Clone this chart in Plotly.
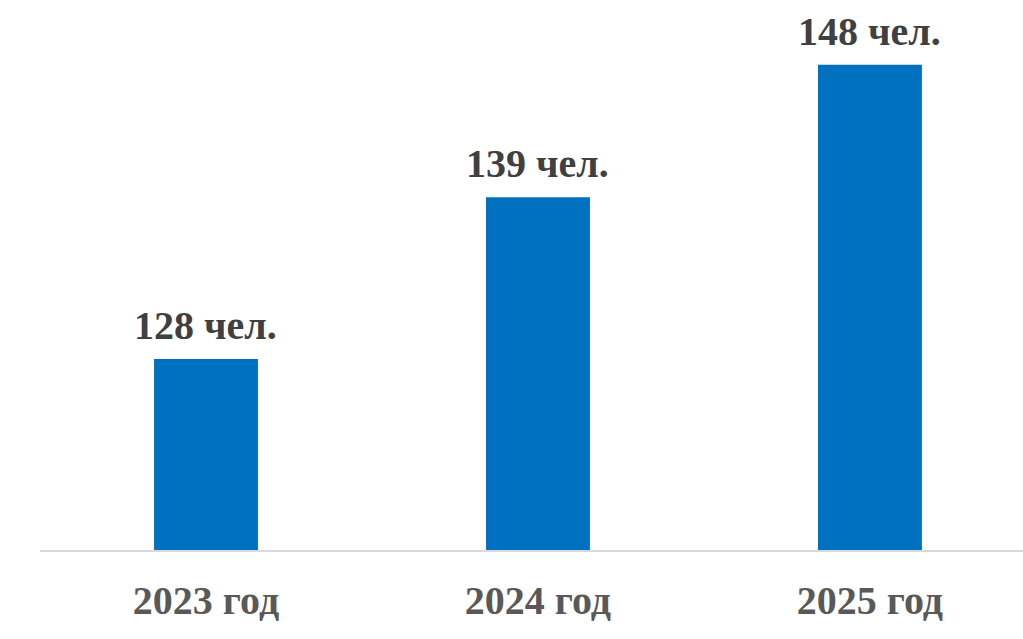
import plotly.graph_objects as go

categories = ["2023 год", "2024 год", "2025 год"]
values = [128, 139, 148]
value_labels = ["128 чел.", "139 чел.", "148 чел."]

fig = go.Figure()
fig.add_trace(go.Bar(
    x=categories, y=values, width=0.313,
    marker=dict(color="#0070C0", line=dict(width=0)),
    hoverinfo="skip",
))
for c, v, t in zip(categories, values, value_labels):
    fig.add_annotation(x=c, y=v, text=t, showarrow=False, yanchor="bottom",
                       yshift=9,
                       font=dict(family="Liberation Serif", size=40, color="#404040", weight="bold"))

fig.update_layout(
    width=1023, height=639,
    margin=dict(l=40, r=0, t=10, b=89),
    paper_bgcolor="white", plot_bgcolor="white",
    showlegend=False,
    xaxis=dict(range=[-0.5, 2.461], showline=True, linecolor="#D9D9D9", linewidth=1.5,
               ticks="", showgrid=False, ticklabelstandoff=14,
               tickfont=dict(family="Liberation Serif", size=40, color="#595959", weight="bold")),
    yaxis=dict(range=[115, 151.73], visible=False, showgrid=False, zeroline=False),
)
fig.write_html("out.html",
               config={"displayModeBar": False},
               post_script="document.body.style.margin='0';document.body.style.overflow='hidden';")
